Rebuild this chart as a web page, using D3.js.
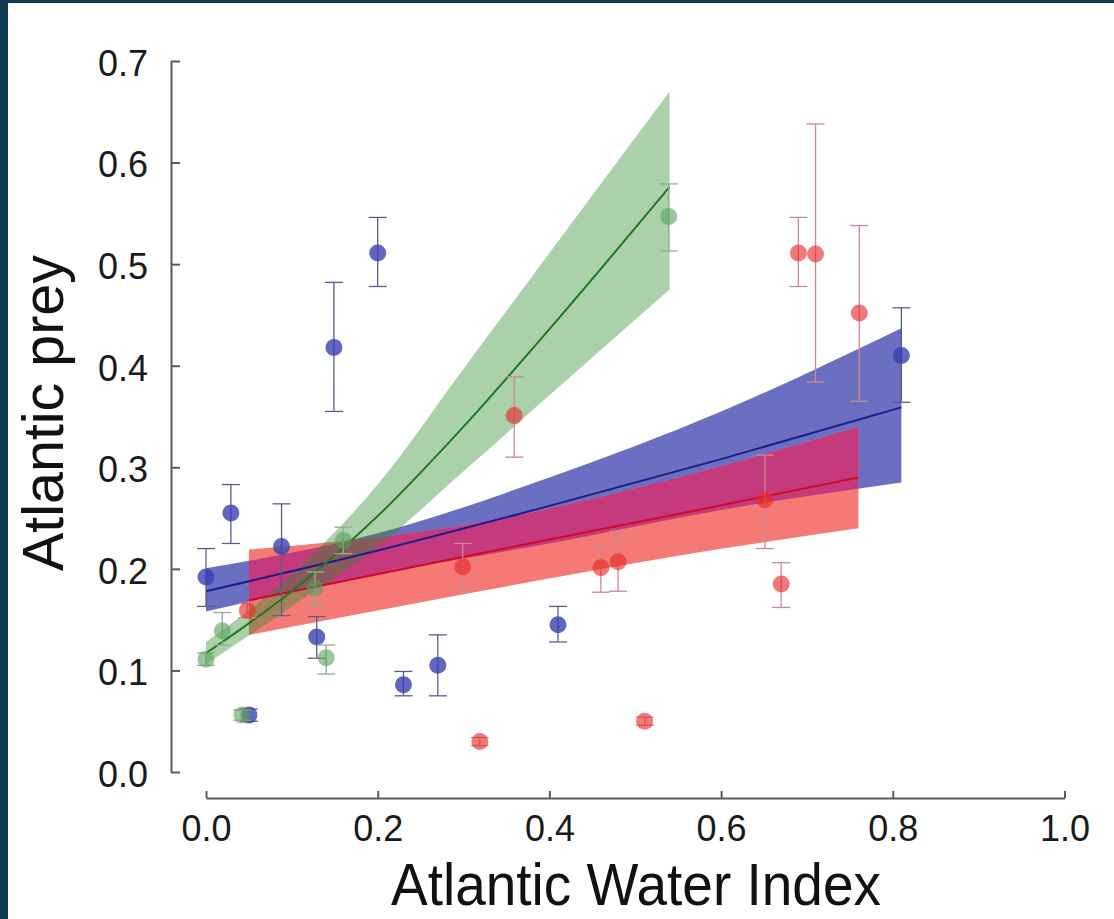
<!DOCTYPE html>
<html><head><meta charset="utf-8">
<script src="https://cdn.jsdelivr.net/npm/d3@7"></script>
<style>
html,body{margin:0;padding:0;background:#fff;}
svg{display:block;}
</style></head>
<body>
<script>
// ---------- data ----------
// points: x = Atlantic Water Index, y = Atlantic prey, lo/hi = error bar ends
const blueX  = [0.000, 0.029, 0.088, 0.129, 0.050, 0.230, 0.270, 0.149, 0.200, 0.410, 0.810];
const blueY  = [0.192, 0.255, 0.222, 0.133, 0.056, 0.086, 0.105, 0.418, 0.511, 0.145, 0.410];
const blueLo = [0.163, 0.225, 0.154, 0.112, 0.050, 0.075, 0.075, 0.355, 0.478, 0.128, 0.364];
const blueHi = [0.220, 0.283, 0.264, 0.153, 0.062, 0.099, 0.135, 0.482, 0.546, 0.163, 0.457];

const redX  = [0.048, 0.299, 0.319, 0.460, 0.480, 0.511, 0.651, 0.670, 0.690, 0.710, 0.761, 0.359];
const redY  = [0.159, 0.202, 0.030, 0.201, 0.207, 0.050, 0.268, 0.185, 0.511, 0.510, 0.452, 0.351];
const redLo = [0.152, 0.179, 0.026, 0.177, 0.178, 0.046, 0.220, 0.162, 0.478, 0.384, 0.365, 0.310];
const redHi = [0.166, 0.225, 0.034, 0.223, 0.237, 0.054, 0.312, 0.206, 0.546, 0.638, 0.538, 0.389];

const greenX  = [0.000, 0.019, 0.042, 0.140, 0.160, 0.127, 0.539];
const greenY  = [0.111, 0.139, 0.056, 0.1125, 0.228, 0.181, 0.547];
const greenLo = [0.105, 0.125, 0.051, 0.0965, 0.215, 0.165, 0.513];
const greenHi = [0.117, 0.157, 0.061, 0.125, 0.241, 0.197, 0.579];

// fitted curves and confidence bands
const blueFitX = [0, 0.2, 0.4, 0.6, 0.81];
const blueFit  = [0.178, 0.218, 0.262, 0.308, 0.359];
const blueBandLo = [0.158, 0.195, 0.225, 0.258, 0.285];
const blueBandHi = [0.2005, 0.235, 0.290, 0.355, 0.437];

const redFitX = [0.05, 0.30, 0.55, 0.76];
const redFit  = [0.169, 0.212, 0.254, 0.290];
const redBandLo = [0.135, 0.175, 0.213, 0.240];
const redBandHi = [0.219, 0.243, 0.290, 0.340];

const greenFitX = [0, 0.1, 0.2, 0.3, 0.4, 0.54];
const greenFit  = [0.117, 0.178, 0.252, 0.340, 0.436, 0.576];
const greenBandLo = [0.106, 0.163, 0.222, 0.296, 0.371, 0.475];
const greenBandHi = [0.128, 0.195, 0.283, 0.397, 0.511, 0.670];

const xTicks = [0, 0.2, 0.4, 0.6, 0.8, 1.0];
const yTicks = [0, 0.1, 0.2, 0.3, 0.4, 0.5, 0.6, 0.7];
const xTitle = "Atlantic Water Index";
const yTitle = "Atlantic prey";

// ---------- drawing ----------
const W = 1114, H = 919;
const svg = d3.select("body").append("svg").attr("width", W).attr("height", H);
svg.append("rect").attr("width", W).attr("height", H).attr("fill", "#fff");
// dark frame (top & left)
svg.append("rect").attr("x", 0).attr("y", 0).attr("width", W).attr("height", 3).attr("fill", "#0f3b52");
svg.append("rect").attr("x", 0).attr("y", 0).attr("width", 8).attr("height", H).attr("fill", "#0f3b52");

const x = d3.scaleLinear().domain([0, 1]).range([206, 1064.5]);
const y = d3.scaleLinear().domain([0, 0.7]).range([772, 61]);

function band(xs, lo, hi) {
  return d3.area().x((d, i) => x(xs[i])).y0((d, i) => y(lo[i])).y1((d, i) => y(hi[i]))
    .curve(d3.curveMonotoneX)(xs);
}
function fit(xs, ys) {
  return d3.line().x((d, i) => x(xs[i])).y((d, i) => y(ys[i])).curve(d3.curveMonotoneX)(xs);
}

const blueBandPath = band(blueFitX, blueBandLo, blueBandHi);
const redBandPath = band(redFitX, redBandLo, redBandHi);
const greenBandPath = band(greenFitX, greenBandLo, greenBandHi);

svg.append("defs").append("clipPath").attr("id", "blueClip")
  .append("path").attr("d", blueBandPath);

const gBands = svg.append("g");
gBands.append("path").attr("d", blueBandPath).attr("fill", "#6b6fc1");
gBands.append("path").attr("d", redBandPath).attr("fill", "#f57a76");
gBands.append("path").attr("d", redBandPath).attr("fill", "#c43a7c").attr("clip-path", "url(#blueClip)");
gBands.append("path").attr("d", greenBandPath).attr("fill", "#2e8b2e").attr("fill-opacity", 0.4);

const fits = [
  {fx: blueFitX, f: blueFit, color: "#1c1c8c"},
  {fx: redFitX, f: redFit, color: "#d00a2a"},
  {fx: greenFitX, f: greenFit, color: "#1f7a1f"}
];
const gLines = svg.append("g");
fits.forEach(s => {
  gLines.append("path").attr("d", fit(s.fx, s.f))
    .attr("fill", "none").attr("stroke", s.color).attr("stroke-width", 2);
});

const series = [
  {X: blueX, Y: blueY, Lo: blueLo, Hi: blueHi, pt: "#3a40b0", ptOp: 0.8, err: "#5c5c8c"},
  {X: redX, Y: redY, Lo: redLo, Hi: redHi, pt: "#e62828", ptOp: 0.62, err: "#c98a92"},
  {X: greenX, Y: greenY, Lo: greenLo, Hi: greenHi, pt: "#5aa05a", ptOp: 0.6, err: "#90b090"}
];
const gPts = svg.append("g");
series.forEach(s => {
  const g = gPts.append("g");
  s.X.forEach((xv, i) => {
    const cx = x(xv);
    g.append("line").attr("x1", cx).attr("x2", cx).attr("y1", y(s.Lo[i])).attr("y2", y(s.Hi[i]))
      .attr("stroke", s.err).attr("stroke-width", 1.3);
    [s.Lo[i], s.Hi[i]].forEach(v => {
      g.append("line").attr("x1", cx - 9).attr("x2", cx + 9).attr("y1", y(v)).attr("y2", y(v))
        .attr("stroke", s.err).attr("stroke-width", 1.3);
    });
  });
  s.X.forEach((xv, i) => {
    g.append("circle").attr("cx", x(xv)).attr("cy", y(s.Y[i])).attr("r", 8.5)
      .attr("fill", s.pt).attr("fill-opacity", s.ptOp);
  });
});

// axes
const axisColor = "#5a5a5a";
const xAxis = d3.axisBottom(x).tickValues(xTicks).tickFormat(d3.format(".1f"))
  .tickSizeInner(-7).tickSizeOuter(0).tickPadding(17);
const gx = svg.append("g").attr("transform", "translate(0,798)").call(xAxis);
const yAxis = d3.axisLeft(y).tickValues(yTicks).tickFormat(d3.format(".1f"))
  .tickSizeInner(-9).tickSizeOuter(0).tickPadding(23);
const gy = svg.append("g").attr("transform", "translate(171,0)").call(yAxis);
[gx, gy].forEach(g => {
  g.select(".domain").attr("stroke", axisColor).attr("stroke-width", 2);
  g.selectAll(".tick line").attr("stroke", axisColor).attr("stroke-width", 2);
  g.selectAll(".tick text").attr("fill", "#1a1a1a")
    .style("font-family", "'Liberation Sans', Arial, sans-serif").style("font-size", "36px");
});
gy.selectAll(".tick text").attr("dy", "0.4em");

svg.append("text").attr("x", 636).attr("y", 905).attr("text-anchor", "middle")
  .attr("textLength", 490).attr("lengthAdjust", "spacingAndGlyphs")
  .style("font-family", "'Liberation Sans', Arial, sans-serif").style("font-size", "59px")
  .attr("fill", "#111").text(xTitle);
svg.append("text").attr("transform", "translate(63,413) rotate(-90)").attr("text-anchor", "middle")
  .attr("textLength", 316).attr("lengthAdjust", "spacingAndGlyphs")
  .style("font-family", "'Liberation Sans', Arial, sans-serif").style("font-size", "58px")
  .attr("fill", "#111").text(yTitle);
</script>
</body></html>
